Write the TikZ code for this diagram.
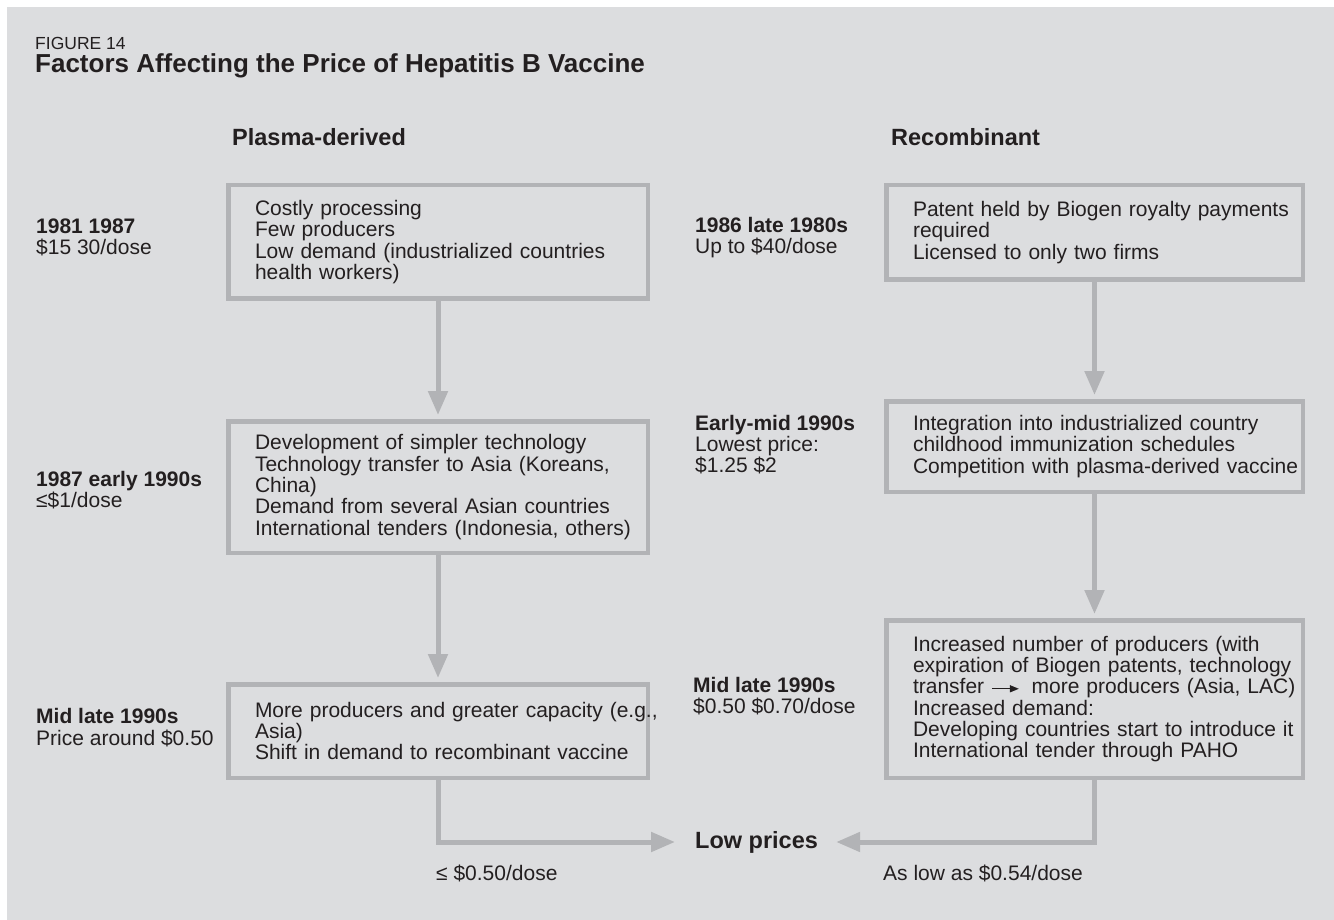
\documentclass[tikz,border=0pt]{standalone}
\usepackage{fontspec}
\setmainfont{Liberation Sans}
\usetikzlibrary{arrows.meta,positioning}
\definecolor{PanelGray}{HTML}{DCDDDF}
\definecolor{FrameGray}{HTML}{B2B3B6}
\definecolor{InkDark}{HTML}{231F20}
\newcommand{\fsz}[2]{\fontsize{#1}{#2}\selectfont}
\newcommand{\flowsign}{\tikz[baseline=-0.45ex]\draw[InkDark,line width=1.4pt,-{Triangle[length=9pt,width=7pt]}] (0pt,0pt)--(27pt,0pt);}
\tikzset{every node/.style={text=InkDark,inner sep=0pt,font=\fsz{21}{21.3}},
 factors/.style={draw=FrameGray,line width=4.5pt,minimum height=#1,align=left,
  execute at begin node={\rightskip=-40pt plus 1fil}},
 leftbox/.style={factors=#1,minimum width=419.5pt,text width=366pt},
 rightbox/.style={factors=#1,minimum width=416.5pt,text width=363pt},
 era/.style={anchor=west,align=left},
 flow/.style={draw=FrameGray,line width=5pt,-{Triangle[length=24pt,width=19pt]},shorten >=4pt},
 head/.style={anchor=west,font=\bfseries\fsz{23.5}{26}}}

\begin{document}
\begin{tikzpicture}[x=1pt,y=1pt]
\fill[white] (0,0) rectangle (1334,-920);
\fill[PanelGray] (7,-7) rectangle (1334,-920);
\useasboundingbox (0,0) rectangle (1334,-920);
\node[anchor=west,font=\fsz{17.5}{20}] (fig) at (35,-43) {FIGURE 14};
\node[anchor=west,font=\bfseries\fsz{26}{28}] (title) at (35,-66) {Factors Affecting the Price of Hepatitis B Vaccine};
\node[head] (plasma) at (232,-137) {Plasma-derived};
\node[head] (recomb) at (891,-137) {Recombinant};
\node[leftbox=113.5pt] (a1) at (438,-242) {Costly processing\\Few producers\\Low demand (industrialized countries\\health workers)};
\node[leftbox=131.5pt,below=118pt of a1] (a2) {Development of simpler technology\\Technology transfer to Asia (Koreans,\\China)\\Demand from several Asian countries\\International tenders (Indonesia, others)};
\node[leftbox=93.5pt,below=127pt of a2] (a3) {More producers and greater capacity (e.g.,\\Asia)\\Shift in demand to recombinant vaccine};
\node[rightbox=94.5pt] (b1) at (1094.5,-232.5) {Patent held by Biogen royalty payments\\required\\Licensed to only two firms};
\node[rightbox=90.5pt,below=117pt of b1] (b2) {Integration into industrialized country\\childhood immunization schedules\\Competition with plasma-derived vaccine};
\node[rightbox=157.5pt,below=124pt of b2] (b3) {Increased number of producers (with\\expiration of Biogen patents, technology\\transfer\hspace{7pt}\flowsign\hspace{12pt}more producers (Asia, LAC)\\Increased demand:\\Developing countries start to introduce it\\International tender through PAHO};
\node[era] (la1) at (36,-237.5) {\textbf{1981 1987}\\\$15 30/dose};
\node[era] (la2) at (36,-490) {\textbf{1987 early 1990s}\\≤\$1/dose};
\node[era] (la3) at (36,-727.5) {\textbf{Mid late 1990s}\\Price around \$0.50};
\node[era] (lb1) at (695,-237.5) {\textbf{1986 late 1980s}\\Up to \$40/dose};
\node[era] (lb2) at (695,-444.5) {\textbf{Early-mid 1990s}\\Lowest price:\\\$1.25 \$2};
\node[era] (lb3) at (693,-696) {\textbf{Mid late 1990s}\\\$0.50 \$0.70/dose};
\node[head] (lowp) at (695,-842) {Low prices};
\node[anchor=west] (plow) at (436,-873) {≤ \$0.50/dose};
\node[anchor=west] (rlow) at (883,-873) {As low as \$0.54/dose};
\draw[flow] (a1) -- (a2);
\draw[flow] (a2) -- (a3);
\draw[flow] (b1) -- (b2);
\draw[flow] (b2) -- (b3);
\draw[flow,shorten >=20pt] (a3) |- (lowp);
\draw[flow,shorten >=18pt] (b3) |- (lowp);
\end{tikzpicture}
\end{document}
